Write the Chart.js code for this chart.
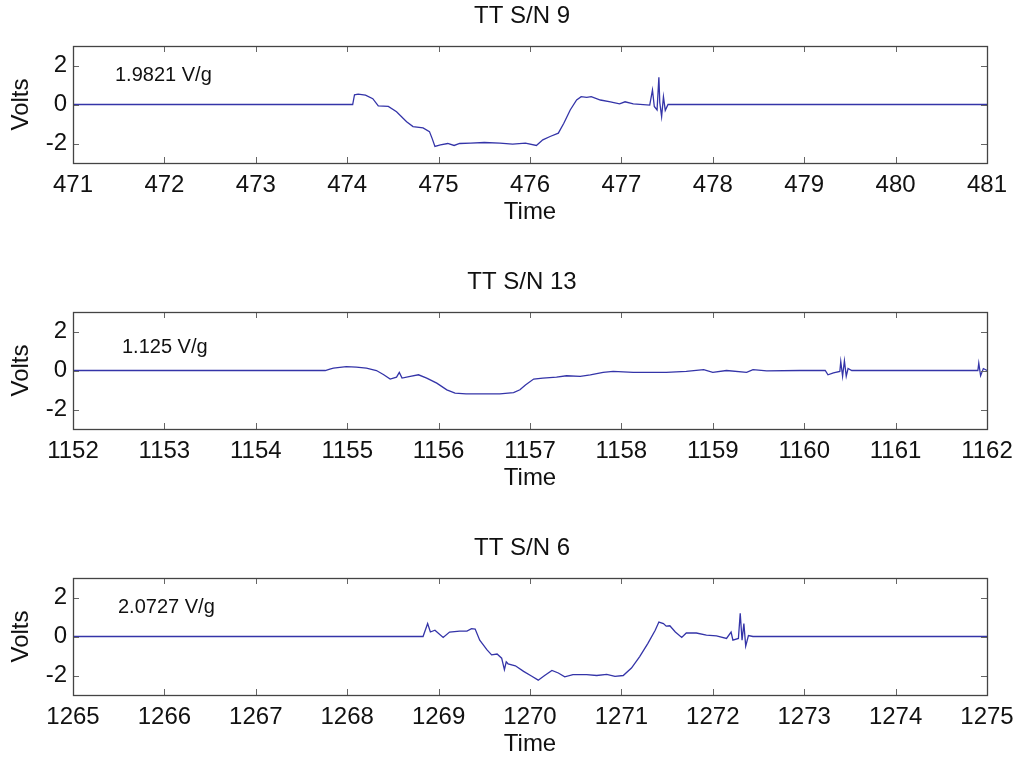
<!DOCTYPE html>
<html>
<head>
<meta charset="utf-8">
<script src="https://cdn.jsdelivr.net/npm/chart.js@4.4.1/dist/chart.umd.min.js"></script>
<style>
  html, body { margin: 0; padding: 0; background: #fff; overflow: hidden; }
  body { width: 1024px; height: 758px; position: relative; }
  canvas { position: absolute; left: 0; }
</style>
</head>
<body>
<canvas id="chart9" width="1024" height="230" style="top:0px"></canvas>
<canvas id="chart13" width="1024" height="230" style="top:266px"></canvas>
<canvas id="chart6" width="1024" height="230" style="top:532px"></canvas>
<script>
// TT S/N 9
const time9 = [471, 474.06, 474.08, 474.12, 474.2, 474.28, 474.34, 474.45, 474.54, 474.65, 474.72, 474.83, 474.9, 474.93, 474.96, 475.02, 475.1, 475.17, 475.23, 475.35, 475.5, 475.67, 475.81, 475.95, 476.07, 476.14, 476.22, 476.31, 476.37, 476.44, 476.51, 476.56, 476.62, 476.67, 476.77, 476.88, 476.98, 477.04, 477.13, 477.31, 477.34, 477.36, 477.39, 477.41, 477.42, 477.44, 477.46, 477.48, 477.51, 481];
const volts9 = [0, 0, 0.5, 0.53, 0.48, 0.3, -0.07, -0.1, -0.37, -0.88, -1.13, -1.2, -1.39, -1.75, -2.15, -2.07, -2.0, -2.1, -2.0, -1.98, -1.95, -1.98, -2.03, -1.98, -2.1, -1.81, -1.64, -1.47, -0.96, -0.28, 0.23, 0.4, 0.37, 0.4, 0.23, 0.14, 0.03, 0.14, 0.03, -0.03, 0.74, -0.1, -0.28, 1.4, 0.1, -0.62, 0.4, -0.3, 0, 0];

// TT S/N 13
const time13 = [1152, 1154.76, 1154.81, 1154.85, 1154.99, 1155.1, 1155.21, 1155.32, 1155.4, 1155.47, 1155.54, 1155.57, 1155.6, 1155.69, 1155.78, 1155.87, 1155.98, 1156.09, 1156.18, 1156.3, 1156.49, 1156.67, 1156.82, 1156.89, 1156.95, 1157.04, 1157.14, 1157.29, 1157.4, 1157.55, 1157.66, 1157.8, 1157.91, 1158.13, 1158.49, 1158.71, 1158.9, 1159.0, 1159.15, 1159.37, 1159.44, 1159.59, 1159.95, 1160.23, 1160.26, 1160.32, 1160.39, 1160.4, 1160.42, 1160.44, 1160.46, 1160.48, 1160.52, 1161.9, 1161.91, 1161.93, 1161.96, 1162];
const volts13 = [0, 0, 0.07, 0.12, 0.2, 0.17, 0.12, 0, -0.22, -0.44, -0.34, -0.1, -0.39, -0.3, -0.22, -0.39, -0.65, -0.99, -1.16, -1.2, -1.2, -1.2, -1.13, -0.99, -0.74, -0.44, -0.39, -0.34, -0.27, -0.3, -0.22, -0.1, -0.05, -0.1, -0.1, -0.05, 0.04, -0.1, 0, -0.1, 0.04, -0.02, 0, 0, -0.22, -0.12, -0.05, 0.46, -0.3, 0.5, -0.3, 0.1, 0, 0, 0.38, -0.27, 0.1, 0];

// TT S/N 6
const time6 = [1265, 1268.83, 1268.88, 1268.91, 1268.96, 1269.05, 1269.12, 1269.23, 1269.31, 1269.36, 1269.4, 1269.45, 1269.53, 1269.58, 1269.64, 1269.69, 1269.72, 1269.74, 1269.76, 1269.84, 1269.93, 1270.02, 1270.09, 1270.16, 1270.24, 1270.31, 1270.38, 1270.47, 1270.62, 1270.73, 1270.84, 1270.93, 1271.02, 1271.11, 1271.2, 1271.29, 1271.37, 1271.41, 1271.46, 1271.49, 1271.53, 1271.59, 1271.66, 1271.71, 1271.82, 1271.93, 1272.04, 1272.15, 1272.2, 1272.22, 1272.28, 1272.3, 1272.32, 1272.34, 1272.36, 1272.39, 1272.44, 1275];
const volts6 = [0, 0, 0.66, 0.23, 0.32, -0.05, 0.23, 0.28, 0.28, 0.4, 0.38, -0.19, -0.69, -0.94, -0.9, -1.11, -1.7, -1.3, -1.4, -1.5, -1.79, -2.04, -2.24, -2.0, -1.74, -1.87, -2.07, -1.96, -1.96, -2.0, -1.94, -2.04, -2.0, -1.62, -1.03, -0.35, 0.32, 0.74, 0.66, 0.53, 0.55, 0.23, -0.05, 0.18, 0.18, 0.07, 0.03, -0.1, 0.23, -0.19, -0.1, 1.19, -0.19, 0.66, -0.49, 0.05, 0, 0];

const titles = ['TT S/N 9', 'TT S/N 13', 'TT S/N 6'];
const notes = ['1.9821 V/g', '1.125 V/g', '2.0727 V/g'];
const voltTicks = [-2, 0, 2];

const FONT = "'Liberation Sans', Arial, Helvetica, sans-serif";

// box with inward ticks on all sides, title centred over the axes, and the V/g note
const framePlugin = {
    id: 'frame',
    afterDatasetsDraw(chart, args, opts) {
        const ctx = chart.ctx;
        const a = chart.chartArea;
        const x = chart.scales.x;
        const y = chart.scales.y;
        ctx.save();
        ctx.strokeStyle = '#666';
        ctx.lineWidth = 1;
        ctx.beginPath();
        x.ticks.forEach(function(t) {
            const px = Math.round(x.getPixelForValue(t.value)) + 0.5;
            ctx.moveTo(px, a.top); ctx.lineTo(px, a.top + 6);
            ctx.moveTo(px, a.bottom); ctx.lineTo(px, a.bottom - 6);
        });
        y.ticks.forEach(function(t) {
            const py = Math.round(y.getPixelForValue(t.value)) + 0.5;
            ctx.moveTo(a.left, py); ctx.lineTo(a.left + 6, py);
            ctx.moveTo(a.right, py); ctx.lineTo(a.right - 6, py);
        });
        ctx.stroke();
        ctx.strokeStyle = '#444';
        ctx.lineWidth = 1.3;
        ctx.strokeRect(Math.round(a.left) + 0.5, Math.round(a.top) + 0.5, Math.round(a.right - a.left), Math.round(a.bottom - a.top));

        ctx.fillStyle = '#111';
        ctx.textBaseline = 'middle';
        ctx.textAlign = 'center';
        ctx.font = '24px ' + FONT;
        ctx.fillText(opts.title, (a.left + a.right) / 2 - 8, a.top - 30);

        ctx.font = '20px ' + FONT;
        ctx.textAlign = 'left';
        ctx.fillText(opts.note, a.left + opts.dx, a.top + opts.dy);
        ctx.restore();
    }
};

function makePanel(id, title, times, volts, note, dx, dy) {
    const ctx = document.getElementById(id).getContext('2d');
    return new Chart(ctx, {
        type: 'line',
        data: {
            datasets: [{
                data: times.map(function(t, i) { return {x: t, y: volts[i]}; }),
                borderColor: '#3434a8',
                borderWidth: 1.3,
                pointRadius: 0,
                tension: 0,
                fill: false
            }]
        },
        options: {
            responsive: false,
            animation: false,
            layout: { padding: { left: 0, right: 37, top: 46, bottom: 0 } },
            plugins: {
                legend: { display: false },
                tooltip: { enabled: false },
                title: { display: false },
                frame: { title: title, note: note, dx: dx, dy: dy }
            },
            scales: {
                x: {
                    type: 'linear',
                    min: times[0],
                    max: times[times.length - 1],
                    afterFit: function(scale) { scale.height = 67; },
                    grid: { display: false, drawTicks: false },
                    border: { display: false },
                    ticks: {
                        stepSize: 1,
                        padding: 8,
                        color: '#111',
                        maxRotation: 0,
                        font: { family: FONT, size: 24 },
                        callback: function(v) { return String(v); }
                    },
                    title: {
                        display: true,
                        text: 'Time',
                        color: '#111',
                        font: { family: FONT, size: 24 },
                        padding: { top: 0, bottom: 3 }
                    }
                },
                y: {
                    min: -3,
                    max: 3,
                    afterFit: function(scale) { scale.width = 73; },
                    afterBuildTicks: function(scale) {
                        scale.ticks = voltTicks.map(function(v) { return {value: v}; });
                    },
                    grid: { display: false, drawTicks: false },
                    border: { display: false },
                    ticks: {
                        padding: 6,
                        color: '#111',
                        font: { family: FONT, size: 24 }
                    },
                    title: {
                        display: true,
                        text: 'Volts',
                        color: '#111',
                        font: { family: FONT, size: 24 },
                        padding: { top: 7, bottom: 0 }
                    }
                }
            }
        },
        plugins: [framePlugin]
    });
}

makePanel('chart9', titles[0], time9, volts9, notes[0], 42, 29);
makePanel('chart13', titles[1], time13, volts13, notes[1], 49, 35);
makePanel('chart6', titles[2], time6, volts6, notes[2], 45, 29);
</script>
</body>
</html>
